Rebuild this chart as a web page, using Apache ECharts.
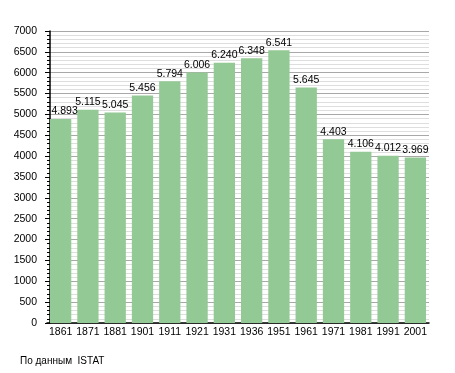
<!DOCTYPE html>
<html><head><meta charset="utf-8">
<script src="https://cdn.jsdelivr.net/npm/echarts@6/dist/echarts.min.js"></script>
<style>html,body{margin:0;padding:0;background:#fff}#c{width:455px;height:373px}</style>
</head><body><div id="c"></div>
<script>
const years = ['1861','1871','1881','1901','1911','1921','1931','1936','1951','1961','1971','1981','1991','2001'];
const population = [4893,5115,5045,5456,5794,6006,6240,6348,6541,5645,4403,4106,4012,3969];
const yTicks = {min:0, max:7000, interval:500};
const sourceNote = 'По данным  ISTAT';

const font = 'Liberation Sans, Arial, sans-serif';
const chart = echarts.init(document.getElementById('c'), null, {renderer:'canvas'});
chart.setOption({
  animation:false,
  backgroundColor:'#fff',
  graphic:[{type:'text', left:20, top:356, style:{text:sourceNote, font:'10px '+font, fill:'#000'}}],
  grid:{left:47, right:26, top:31, bottom:50},
  xAxis:{type:'category', data:years, boundaryGap:true,
    axisLine:{lineStyle:{color:'#000', width:1.5}},
    axisTick:{show:false},
    axisLabel:{color:'#000', fontSize:10.5, fontFamily:font, margin:4, interval:0}},
  yAxis:{type:'value', min:yTicks.min, max:yTicks.max, interval:yTicks.interval, offset:-3,
    axisLine:{show:true, lineStyle:{color:'#000', width:1.5}},
    axisTick:{show:true, length:5, lineStyle:{color:'#000'}},
    minorTick:{show:true, splitNumber:5, length:3, lineStyle:{color:'#000'}},
    splitLine:{show:true, lineStyle:{color:'#a8a8a8', width:1}},
    minorSplitLine:{show:true, lineStyle:{color:'#dedede', width:1}},
    axisLabel:{color:'#000', fontSize:10.5, fontFamily:font, margin:13, formatter:v=>String(v)}},
  series:[{type:'bar',
    data:population.map((v,i)=> i===0 ? {value:v, label:{offset:[4,0]}} : v),
    barCategoryGap:'22%',
    itemStyle:{color:'#93c994'},
    label:{show:true, position:'top', distance:2, color:'#000', fontSize:10.5, fontFamily:font,
      formatter:p=>{const s=String(p.value);return s.length>3?s.slice(0,-3)+'.'+s.slice(-3):s;}}}]
});
</script></body></html>
